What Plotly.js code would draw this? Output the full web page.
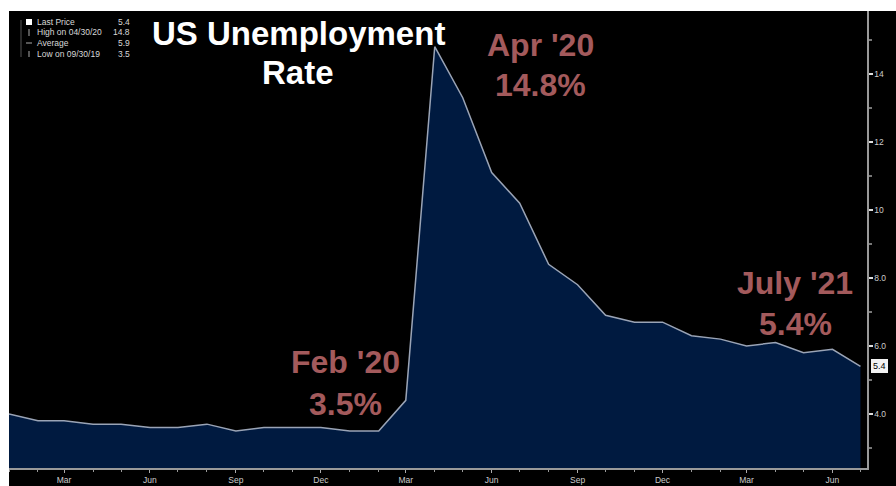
<!DOCTYPE html>
<html>
<head>
<meta charset="utf-8">
<script src="https://cdn.plot.ly/plotly-3.0.1.min.js"></script>
<style>
html,body{margin:0;padding:0;background:#fff;}
#chart{width:896px;height:486px;}
</style>
</head>
<body>
<div id="chart"></div>
<script>
// ---- data ----
const months = ["2019-01-01","2019-02-01","2019-03-01","2019-04-01","2019-05-01","2019-06-01","2019-07-01","2019-08-01","2019-09-01","2019-10-01","2019-11-01","2019-12-01",
"2020-01-01","2020-02-01","2020-03-01","2020-04-01","2020-05-01","2020-06-01","2020-07-01","2020-08-01","2020-09-01","2020-10-01","2020-11-01","2020-12-01",
"2021-01-01","2021-02-01","2021-03-01","2021-04-01","2021-05-01","2021-06-01","2021-07-01"];
const rate = [4.0,3.8,3.8,3.7,3.7,3.6,3.6,3.7,3.5,3.6,3.6,3.6,
3.5,3.5,4.4,14.8,13.3,11.1,10.2,8.4,7.8,6.9,6.7,6.7,
6.3,6.2,6.0,6.1,5.8,5.9,5.4];
const yTickVals = [4,6,8,10,12,14];
const yTickText = ["4.0","6.0","8.0","10","12","14"];
const yearLabels = ["2019","2020","2021"];
const yearPos = ["2019-06-15","2020-06-01","2021-04-10"];
const legendNames = ["Last Price","High on 04/30/20","Average","Low on 09/30/19"];
const legendValues = ["5.4","14.8","5.9","3.5"];
const lastValue = "5.4";
const chartTitle = ["US Unemployment","Rate"];
const callouts = [
  {lines:["Apr '20","14.8%"], cx:540, cy:[43,83]},
  {lines:["Feb '20","3.5%"], cx:345, cy:[360,402]},
  {lines:["July '21","5.4%"], cx:795, cy:[281,322]}
];

// ---- geometry ----
const W=896,H=486, L=9, R=29, T=11, B=18;
const pw=W-L-R, ph=H-T-B;
const px=(x)=>(x-L)/pw;
const py=(y)=>(H-B-y)/ph;

const red = "#a35a5c";
const ann = [];
// title
ann.push({xref:'paper',yref:'paper',x:px(298),y:py(33),text:'<b>'+chartTitle[0]+'</b>',showarrow:false,xanchor:'center',yanchor:'middle',
  font:{family:'Liberation Sans, Arial, sans-serif',size:33,color:'#ffffff'}});
ann.push({xref:'paper',yref:'paper',x:px(298),y:py(73),text:'<b>'+chartTitle[1]+'</b>',showarrow:false,xanchor:'center',yanchor:'middle',
  font:{family:'Liberation Sans, Arial, sans-serif',size:33,color:'#ffffff'}});
// callouts
callouts.forEach(c=>{
  c.lines.forEach((t,i)=>{
    ann.push({xref:'paper',yref:'paper',x:px(c.cx),y:py(c.cy[i]+2),text:'<b>'+t+'</b>',showarrow:false,xanchor:'center',yanchor:'middle',
      font:{family:'Liberation Sans, Arial, sans-serif',size:32,color:red}});
  });
});
// legend
const legY=[22,32,43,54];
legendNames.forEach((n,i)=>{
  ann.push({xref:'paper',yref:'paper',x:px(35),y:py(legY[i]),text:n,showarrow:false,xanchor:'left',yanchor:'middle',
    font:{family:'Liberation Sans, Arial',size:8.5,color:'#d8d8d8'}});
  ann.push({xref:'paper',yref:'paper',x:px(132),y:py(legY[i]),text:legendValues[i],showarrow:false,xanchor:'right',yanchor:'middle',
    font:{family:'Liberation Sans, Arial',size:8.5,color:'#d8d8d8'}});
});
// year labels (partly cut by the bottom edge, as in the source)
yearLabels.forEach((t,i)=>{
  ann.push({xref:'x',yref:'paper',x:yearPos[i],y:py(482),text:t,showarrow:false,xanchor:'center',yanchor:'top',
    font:{family:'Liberation Sans, Arial',size:8,color:'#cccccc'}});
});
// last value box
ann.push({xref:'paper',yref:'y',x:px(871),y:rate[rate.length-1],text:lastValue,showarrow:false,xanchor:'left',yanchor:'middle',
  bgcolor:'#f2f2f2',bordercolor:'#f2f2f2',borderpad:1,font:{family:'Liberation Sans, Arial',size:9,color:'#000'}});

const shapes = [
  {type:'rect',xref:'paper',yref:'paper',x0:px(0),x1:px(W),y0:py(T),y1:py(0),fillcolor:'#ffffff',line:{width:0},layer:'below'},
  {type:'rect',xref:'paper',yref:'paper',x0:px(0),x1:px(L),y0:py(H),y1:py(0),fillcolor:'#ffffff',line:{width:0},layer:'below'},
  {type:'rect',xref:'paper',yref:'paper',x0:px(26),x1:px(32),y0:py(25),y1:py(19),fillcolor:'#ffffff',line:{width:0}},
  {type:'line',xref:'paper',yref:'paper',x0:px(21),x1:px(21),y0:py(57),y1:py(20),line:{color:'#555',width:1}},
  {type:'line',xref:'paper',yref:'paper',x0:px(26),x1:px(32),y0:py(43),y1:py(43),line:{color:'#aaa',width:1}},
  {type:'line',xref:'paper',yref:'paper',x0:px(29),x1:px(29),y0:py(36),y1:py(29),line:{color:'#aaa',width:1}},
  {type:'line',xref:'paper',yref:'paper',x0:px(29),x1:px(29),y0:py(57),y1:py(51),line:{color:'#aaa',width:1}}
];

const trace = {
  x: months, y: rate, type:'scatter', mode:'lines', fill:'tozeroy',
  fillcolor:'#001a40', line:{color:'#9aa4b6',width:1.5}, hoverinfo:'skip'
};

const layout = {
  width:W, height:H, margin:{l:L,r:R,t:T,b:B,pad:0},
  paper_bgcolor:'#000000', plot_bgcolor:'#000000', showlegend:false,
  xaxis:{type:'date', range:['2019-01-01','2021-07-08'], tick0:'2019-03-01', dtick:'M3', tickformat:'%b',
    ticks:'outside', ticklen:3, tickcolor:'#aaaaaa', showgrid:false, zeroline:false,
    showline:true, linecolor:'#9a9a9a', linewidth:1.5,
    minor:{dtick:'M1', ticks:'outside', ticklen:2, tickcolor:'#999999', showgrid:false},
    tickfont:{family:'Liberation Sans, Arial',size:8.5,color:'#cccccc'}},
  yaxis:{side:'right', range:[2.41,15.85], tickmode:'array', tickvals:yTickVals, ticktext:yTickText,
    ticks:'outside', ticklen:4, tickwidth:2, tickcolor:'#dddddd', showgrid:false, zeroline:false,
    showline:true, linecolor:'#9a9a9a', linewidth:1.5,
    minor:{dtick:1, tick0:0, ticks:'outside', ticklen:3, tickcolor:'#777777', showgrid:false},
    tickfont:{family:'Liberation Sans, Arial',size:8.5,color:'#cccccc'}},
  annotations: ann, shapes: shapes
};

Plotly.newPlot('chart',[trace],layout,{displayModeBar:false,staticPlot:true});
</script>
</body>
</html>
